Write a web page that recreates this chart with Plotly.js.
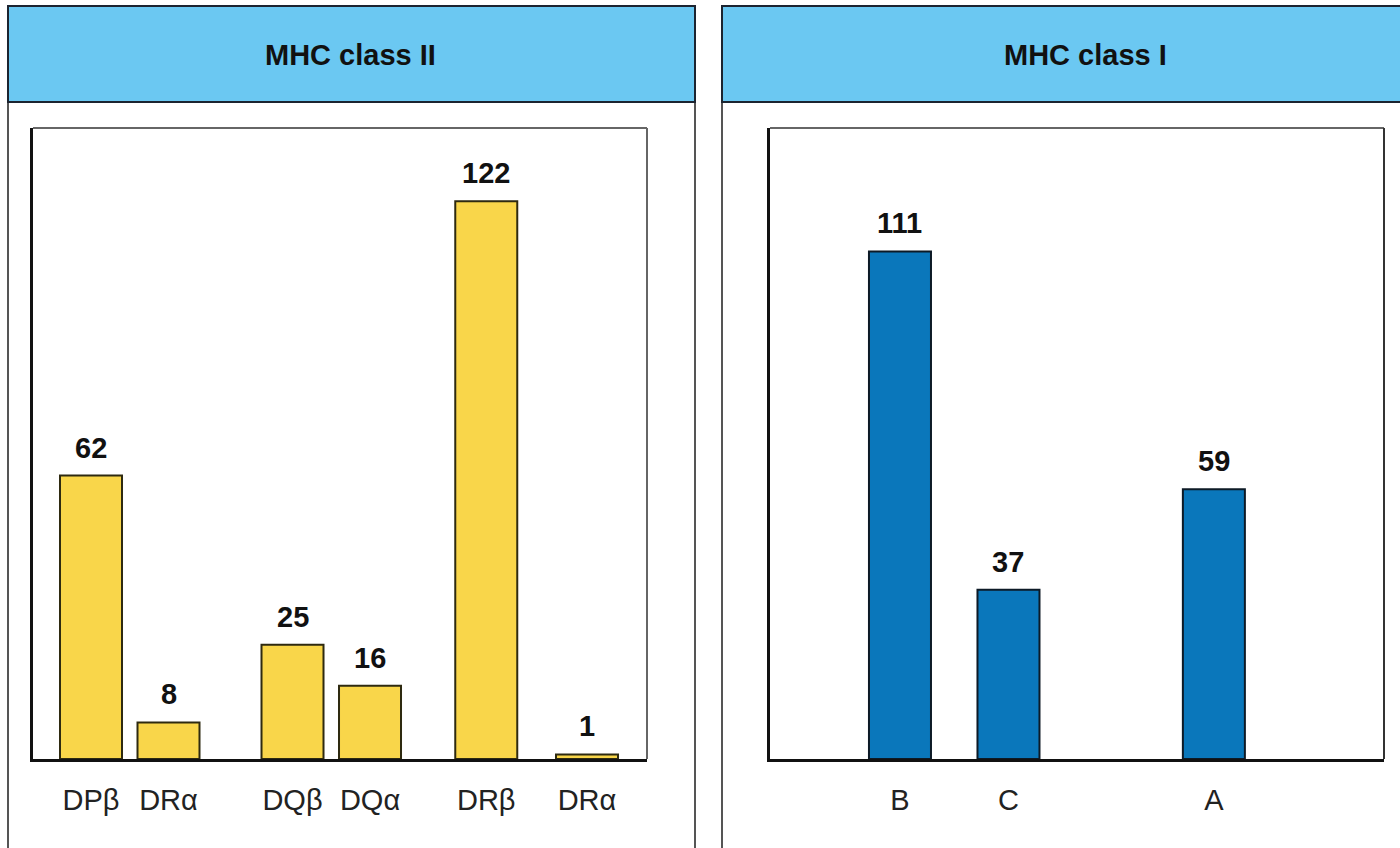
<!DOCTYPE html>
<html>
<head>
<meta charset="utf-8">
<script src="https://cdn.plot.ly/plotly-3.0.1.min.js"></script>
<style>html,body{margin:0;padding:0;background:#fff;}#chart{width:1400px;height:848px;}</style>
</head>
<body>
<div id="chart"></div>
<script>
// Data
const class2Genes = ["DPβ", "DRα", "DQβ", "DQα", "DRβ", "DRα"];
const class2Counts = [62, 8, 25, 16, 122, 1];
const class2Order = [1, 2, 3.6, 4.6, 6.1, 7.4];
const class1Genes = ["B", "C", "A"];
const class1Counts = [111, 37, 59];
const class1Order = [1, 2.4, 5.05];
const panelTitles = ["MHC class II", "MHC class I"];

const W = 1400, H = 848;
const px = v => v / W, py = v => 1 - v / H;
const FONT = 'Liberation Sans, Arial, Helvetica, sans-serif';

const traces = [
  {
    type: 'bar', x: class2Order, y: class2Counts, width: 0.8,
    xaxis: 'x', yaxis: 'y',
    marker: {color: '#f9d64a', line: {color: '#2e2a10', width: 2}},
    hoverinfo: 'skip'
  },
  {
    type: 'bar', x: class1Order, y: class1Counts, width: 0.8,
    xaxis: 'x2', yaxis: 'y2',
    marker: {color: '#0a77bb', line: {color: '#0d1a26', width: 2}},
    hoverinfo: 'skip'
  }
];

const valueLabels = [];
class2Counts.forEach((v, i) => valueLabels.push({
  xref: 'x', yref: 'y', x: class2Order[i], y: v, text: '<b>' + v + '</b>',
  showarrow: false, xanchor: 'center', yanchor: 'bottom', yshift: 10,
  font: {family: FONT, size: 29, color: '#111'}
}));
class1Counts.forEach((v, i) => valueLabels.push({
  xref: 'x2', yref: 'y2', x: class1Order[i], y: v, text: '<b>' + v + '</b>',
  showarrow: false, xanchor: 'center', yanchor: 'bottom', yshift: 10,
  font: {family: FONT, size: 29, color: '#111'}
}));

const yTop = 128, yBase = 759;
const axisCommon = {
  showgrid: false, zeroline: false, ticks: 'outside', ticklen: 13,
  tickcolor: 'rgba(0,0,0,0)', showline: true, linecolor: '#111', linewidth: 3,
  tickfont: {family: FONT, size: 29, color: '#222'}
};

const layout = {
  width: W, height: H,
  margin: {l: 0, r: 0, t: 0, b: 0},
  paper_bgcolor: '#fff', plot_bgcolor: '#fff',
  showlegend: false,
  bargap: 0,
  xaxis: Object.assign({}, axisCommon, {
    domain: [px(33), px(647)], range: [0.2516, 8.174],
    tickmode: 'array', tickvals: class2Order, ticktext: class2Genes, anchor: 'y'
  }),
  yaxis: Object.assign({}, axisCommon, {
    domain: [py(yBase), py(yTop)], range: [0, 138], showticklabels: false, ticks: '', anchor: 'x'
  }),
  xaxis2: Object.assign({}, axisCommon, {
    domain: [px(770), px(1384)], range: [-0.677, 7.245],
    tickmode: 'array', tickvals: class1Order, ticktext: class1Genes, anchor: 'y2'
  }),
  yaxis2: Object.assign({}, axisCommon, {
    domain: [py(yBase), py(yTop)], range: [0, 138], showticklabels: false, ticks: '', anchor: 'x2'
  }),
  shapes: [
    {type: 'rect', xref: 'paper', yref: 'paper', x0: px(8), x1: px(695), y0: py(851), y1: py(6),
     line: {color: '#555', width: 2}, fillcolor: 'rgba(0,0,0,0)', layer: 'below'},
    {type: 'rect', xref: 'paper', yref: 'paper', x0: px(722), x1: px(1404), y0: py(851), y1: py(6),
     line: {color: '#555', width: 2}, fillcolor: 'rgba(0,0,0,0)', layer: 'below'},
    {type: 'rect', xref: 'paper', yref: 'paper', x0: px(8), x1: px(695), y0: py(102), y1: py(6),
     line: {color: '#1c2430', width: 2}, fillcolor: '#6bc8f2', layer: 'below'},
    {type: 'rect', xref: 'paper', yref: 'paper', x0: px(722), x1: px(1404), y0: py(102), y1: py(6),
     line: {color: '#1c2430', width: 2}, fillcolor: '#6bc8f2', layer: 'below'},
    {type: 'line', xref: 'paper', yref: 'paper', x0: px(33), x1: px(647), y0: py(yTop), y1: py(yTop),
     line: {color: '#666', width: 2}},
    {type: 'line', xref: 'paper', yref: 'paper', x0: px(647), x1: px(647), y0: py(yTop), y1: py(yBase),
     line: {color: '#666', width: 2}},
    {type: 'line', xref: 'paper', yref: 'paper', x0: px(770), x1: px(1384), y0: py(yTop), y1: py(yTop),
     line: {color: '#666', width: 2}},
    {type: 'line', xref: 'paper', yref: 'paper', x0: px(1384), x1: px(1384), y0: py(yTop), y1: py(yBase),
     line: {color: '#333', width: 2}}
  ],
  annotations: [
    {xref: 'paper', yref: 'paper', x: px(350), y: py(55), xanchor: 'center', yanchor: 'middle',
     text: '<b>' + panelTitles[0] + '</b>', showarrow: false,
     font: {family: FONT, size: 29, color: '#111'}},
    {xref: 'paper', yref: 'paper', x: px(1085), y: py(55), xanchor: 'center', yanchor: 'middle',
     text: '<b>' + panelTitles[1] + '</b>', showarrow: false,
     font: {family: FONT, size: 29, color: '#111'}}
  ].concat(valueLabels)
};

Plotly.newPlot('chart', traces, layout, {displayModeBar: false, staticPlot: true});
</script>
</body>
</html>
